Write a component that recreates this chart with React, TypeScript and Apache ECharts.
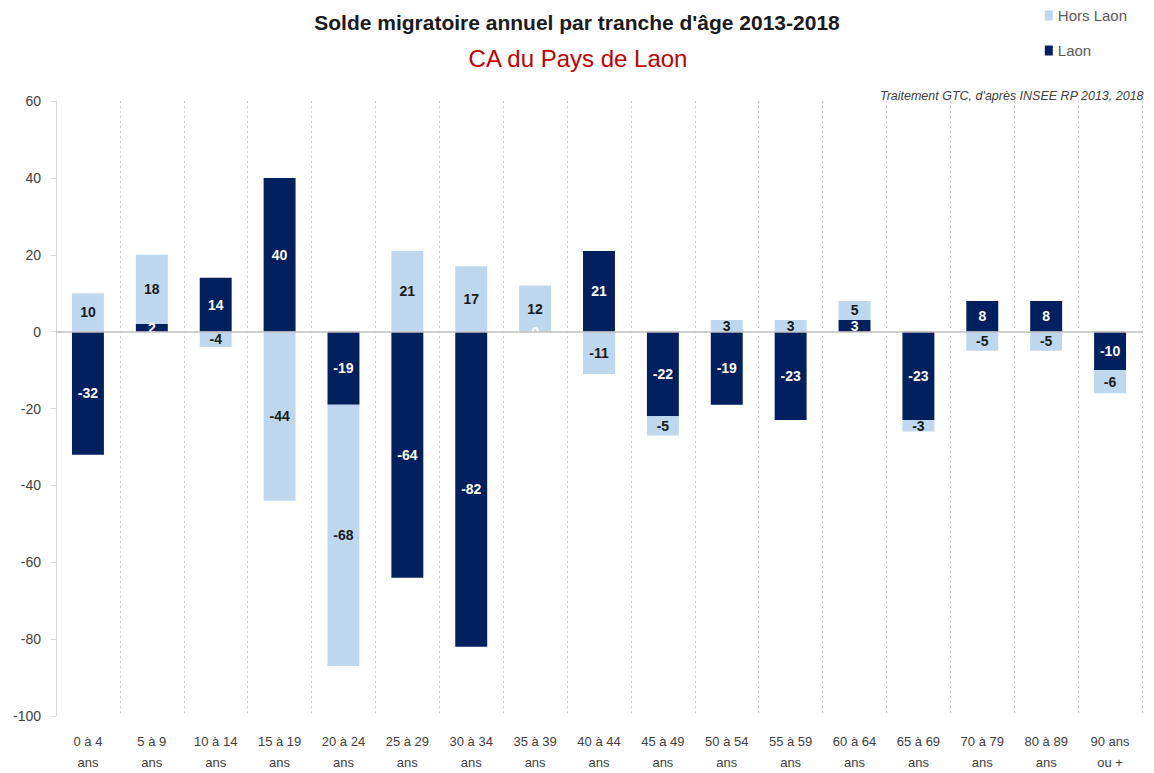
import React, { useEffect, useRef } from "react";
import * as echarts from "echarts";

const categories = [
  "0 à 4\nans", "5 à 9\nans", "10 à 14\nans", "15 à 19\nans", "20 à 24\nans",
  "25 à 29\nans", "30 à 34\nans", "35 à 39\nans", "40 à 44\nans", "45 à 49\nans",
  "50 à 54\nans", "55 à 59\nans", "60 à 64\nans", "65 à 69\nans", "70 à 79\nans",
  "80 à 89\nans", "90 ans\nou +",
];
const laon = [-32, 2, 14, 40, -19, -64, -82, 0, 21, -22, -19, -23, 3, -23, 8, 8, -10];
const horsLaon = [10, 18, -4, -44, -68, 21, 17, 12, -11, -5, 3, 3, 5, -3, -5, -5, -6];

const FONT = "'Liberation Sans', sans-serif";

export default function App() {
  const ref = useRef<HTMLDivElement>(null);
  useEffect(() => {
    document.body.style.margin = "0";
    const chart = echarts.init(ref.current!, null, { renderer: "svg" });
    chart.setOption({
      animation: false,
      textStyle: { fontFamily: FONT },
      title: [
        {
          text: "Solde migratoire annuel par tranche d'âge 2013-2018",
          left: 572, top: 7, textAlign: "center",
          textStyle: { fontSize: 21, fontWeight: "bold", color: "#1a1a1a", fontFamily: FONT },
        },
        {
          text: "CA du Pays de Laon",
          left: 573, top: 41, textAlign: "center",
          textStyle: { fontSize: 24, fontWeight: "normal", color: "#C00000", fontFamily: FONT },
        },
        {
          text: "Traitement GTC, d'après INSEE RP 2013, 2018",
          right: 5, top: 84,
          textStyle: { fontSize: 12.5, fontStyle: "italic", fontWeight: "normal", color: "#404040", fontFamily: FONT },
        },
      ],
      legend: {
        orient: "vertical",
        right: 22, top: 3,
        itemGap: 20,
        itemWidth: 8, itemHeight: 10,
        icon: "rect",
        data: ["Hors Laon", "Laon"],
        textStyle: { fontSize: 15, color: "#595959", fontFamily: FONT },
      },
      grid: { left: 56, right: 12, top: 101, bottom: 45 },
      xAxis: {
        type: "category",
        data: categories,
        axisLine: { show: false },
        axisTick: { show: false },
        splitLine: { show: true, lineStyle: { color: "#c8c8c8", type: [2, 3], width: 1 } },
        axisLabel: { interval: 0, fontSize: 13, lineHeight: 21, color: "#404040", margin: 15, fontFamily: FONT },
      },
      yAxis: {
        type: "value",
        min: -100, max: 60, interval: 20,
        axisLine: { show: true, lineStyle: { color: "#d9d9d9" } },
        axisTick: { show: true, length: 5, lineStyle: { color: "#d9d9d9" } },
        splitLine: { show: false },
        axisLabel: { fontSize: 14, color: "#404040", margin: 15, fontFamily: FONT },
      },
      series: [
        {
          name: "Laon",
          type: "bar",
          stack: "total",
          data: laon,
          barWidth: "50%",
          itemStyle: { color: "#002060" },
          label: { show: true, position: "inside", color: "#ffffff", fontSize: 14, fontWeight: "bold", fontFamily: FONT },
          markLine: {
            silent: true,
            symbol: "none",
            label: { show: false },
            lineStyle: { color: "#bfbfbf", type: "solid", width: 1.5 },
            data: [{ yAxis: 0 }],
          },
        },
        {
          name: "Hors Laon",
          type: "bar",
          stack: "total",
          data: horsLaon,
          barWidth: "50%",
          itemStyle: { color: "#BDD7EE" },
          label: { show: true, position: "inside", color: "#1a1a1a", fontSize: 14, fontWeight: "bold", fontFamily: FONT },
        },
      ],
    });
    return () => chart.dispose();
  }, []);
  return <div ref={ref} style={{ width: 1154, height: 773 }} />;
}
